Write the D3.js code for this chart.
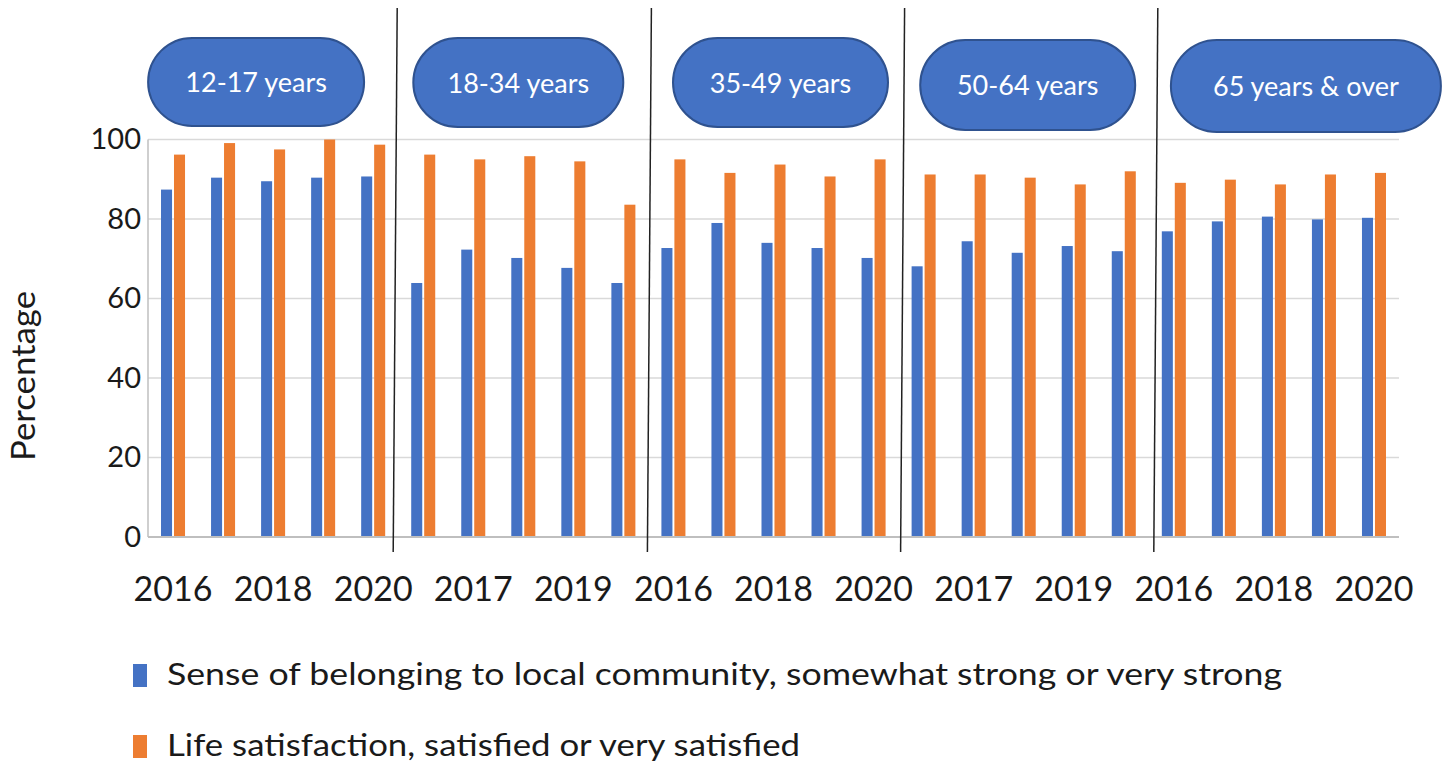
<!DOCTYPE html>
<html><head><meta charset="utf-8">
<script src="https://cdn.jsdelivr.net/npm/d3@7/dist/d3.min.js"></script>
<style>
html,body{margin:0;padding:0;background:#fff;}
svg{display:block;font-family:Lato,"Noto Sans",sans-serif;}
</style></head>
<body>
<svg id="chart" width="1450" height="763"></svg>
<script>
const ageGroups = ["12-17 years","18-34 years","35-49 years","50-64 years","65 years & over"];
const years = ["2016","2017","2018","2019","2020"];
const belonging = [
  87.4, 90.4, 89.5, 90.4, 90.7,
  63.9, 72.3, 70.2, 67.7, 63.9,
  72.7, 79.0, 74.0, 72.7, 70.2,
  68.1, 74.4, 71.5, 73.2, 71.9,
  76.9, 79.4, 80.6, 79.9, 80.3
];
const satisfaction = [
  96.2, 99.1, 97.5, 100.0, 98.7,
  96.2, 95.0, 95.8, 94.5, 83.6,
  95.0, 91.6, 93.7, 90.7, 95.0,
  91.2, 91.2, 90.4, 88.7, 92.0,
  89.1, 89.9, 88.7, 91.2, 91.6
];
const seriesNames = ["Sense of belonging to local community, somewhat strong or very strong","Life satisfaction, satisfied or very satisfied"];
const yTicks = [0,20,40,60,80,100];

const colors = ["#4472C4","#ED7D31"];
const svg = d3.select("#chart");

const cats = [];
ageGroups.forEach((g,gi)=>years.forEach((y,yi)=>cats.push({key:g+"|"+y, group:g, year:y, i:gi*5+yi})));

const x0 = d3.scaleBand().domain(cats.map(d=>d.key)).range([148,1399]).paddingInner(0.52).paddingOuter(0.26);
const x1 = d3.scaleBand().domain([0,1]).range([0,x0.bandwidth()]).paddingInner(0.15);
const y = d3.scaleLinear().domain([0,100]).range([537,139.5]);

// gridlines
svg.append("g").selectAll("line").data(yTicks.filter(t=>t>0)).join("line")
  .attr("x1",148).attr("x2",1399).attr("y1",d=>y(d)).attr("y2",d=>y(d))
  .attr("stroke","#d9d9d9").attr("stroke-width",1.5);

// left axis line
svg.append("line").attr("x1",148).attr("x2",148).attr("y1",y(100)).attr("y2",y(0))
  .attr("stroke","#bfbfbf").attr("stroke-width",1.5);

// bars
const rows = cats.map((c,i)=>({key:c.key, vals:[belonging[i], satisfaction[i]]}));
const cg = svg.append("g").selectAll("g").data(rows).join("g")
  .attr("transform",d=>`translate(${x0(d.key)},0)`);
cg.selectAll("rect").data(d=>d.vals.map((v,s)=>({v,s}))).join("rect")
  .attr("x",d=>x1(d.s)).attr("width",x1.bandwidth())
  .attr("y",d=>y(d.v)).attr("height",d=>y(0)-y(d.v))
  .attr("fill",d=>colors[d.s]);

// baseline
svg.append("line").attr("x1",148).attr("x2",1399).attr("y1",y(0)).attr("y2",y(0))
  .attr("stroke","#bfbfbf").attr("stroke-width",2);

// y axis labels
const yAxis = d3.axisLeft(y).tickValues(yTicks).tickSize(0).tickPadding(7);
const yg = svg.append("g").attr("transform","translate(148,0)").call(yAxis);
yg.select(".domain").remove();
yg.selectAll("text").attr("font-size",29).attr("fill","#1a1a1a").attr("font-family","Lato,'Noto Sans',sans-serif");

// x axis labels
const xAxis = d3.axisBottom(x0).tickValues(cats.filter((d,i)=>i%2===0).map(d=>d.key))
  .tickFormat(k=>k.split("|")[1]).tickSize(0).tickPadding(40);
const xg = svg.append("g").attr("transform",`translate(0,${y(0)})`).call(xAxis);
xg.select(".domain").remove();
xg.selectAll("text").attr("font-size",34).attr("fill","#1a1a1a").attr("font-family","Lato,'Noto Sans',sans-serif");

// y axis title
svg.append("text").attr("transform","translate(35,376) rotate(-90)")
  .attr("text-anchor","middle").attr("font-size",32).attr("fill","#1a1a1a")
  .attr("textLength",170).attr("lengthAdjust","spacingAndGlyphs").text("Percentage");

// group separator lines
const step = x0.step();
const sepOffsets = [[-1,-5],[3,-1],[6,2],[9,5]];
for(let g=1; g<ageGroups.length; g++){
  const bx = x0(cats[g*5].key) - x0.paddingInner()*step/2;
  svg.append("line").attr("x1",bx+sepOffsets[g-1][0]).attr("x2",bx+sepOffsets[g-1][1])
    .attr("y1",8).attr("y2",552).attr("stroke","#222").attr("stroke-width",1.5);
}

// pill labels
const pillBoxes = [
  {dx:-17, w:216, top:38, h:88},
  {dx:-5, w:210, top:38, h:89},
  {dx:7, w:215, top:38, h:89},
  {dx:4, w:215, top:40, h:90},
  {dx:32, w:270, top:40, h:92}
];
ageGroups.forEach((g,gi)=>{
  const cx = x0(cats[gi*5+2].key) + x0.bandwidth()/2 + pillBoxes[gi].dx;
  const p = pillBoxes[gi];
  svg.append("rect").attr("x",cx-p.w/2).attr("y",p.top).attr("width",p.w).attr("height",p.h)
    .attr("rx",p.h/2).attr("ry",p.h/2)
    .attr("fill","#4472C4").attr("stroke","#2F528F").attr("stroke-width",2);
  svg.append("text").attr("x",cx).attr("y",p.top+p.h/2+10).attr("text-anchor","middle")
    .attr("font-size",27).attr("fill","#fff").text(g);
});

// legend
const legendLengths = [1115, 633];
seriesNames.forEach((n,i)=>{
  const ly = 664 + i*71;
  svg.append("rect").attr("x",133).attr("y",ly).attr("width",14).attr("height",23).attr("fill",colors[i]);
  svg.append("text").attr("x",167).attr("y",ly+21).attr("font-size",31).attr("fill","#1a1a1a")
    .attr("textLength",legendLengths[i]).attr("lengthAdjust","spacingAndGlyphs").text(n);
});
</script>
</body></html>
